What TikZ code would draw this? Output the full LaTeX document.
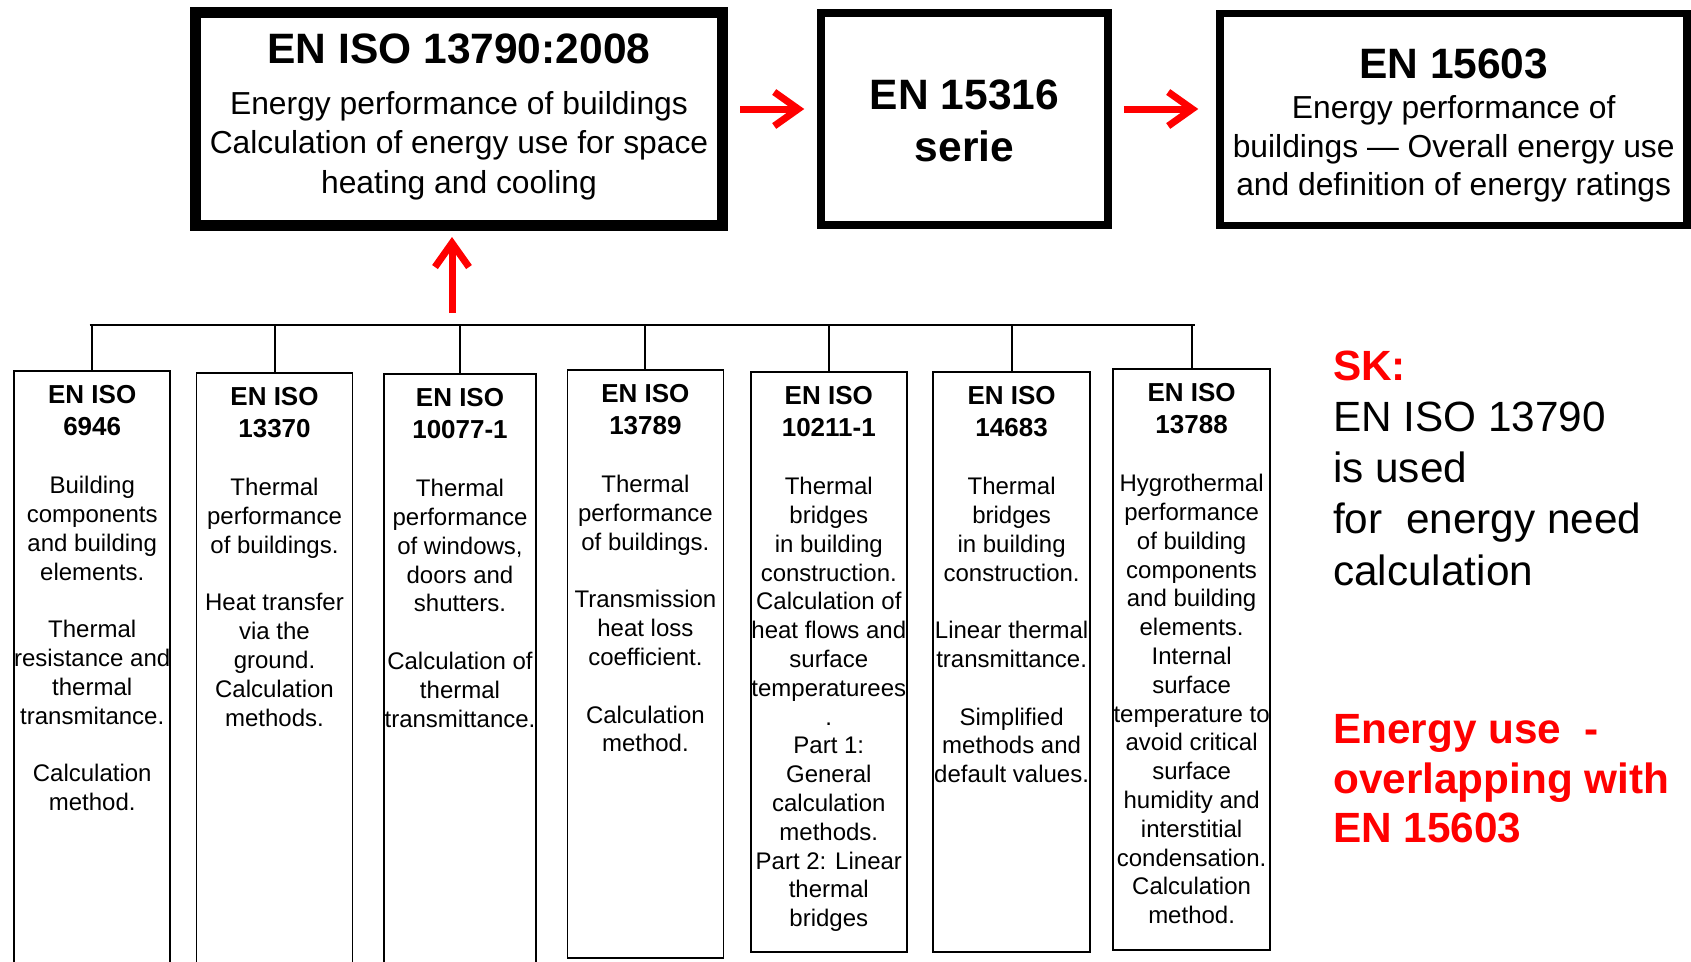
\documentclass[tikz,border=0pt]{standalone}
\usepackage{fontspec}
\setmainfont{Liberation Sans}
\usetikzlibrary{arrows.meta}
\newcommand{\stdhead}[1]{{\fontsize{26}{28.8}\selectfont\bfseries #1}}
\newcommand{\toptitle}[1]{{\fontsize{42.5}{39.4}\selectfont\bfseries #1}}
\tikzset{
  topbox/.style={draw,line width=7.5pt,inner sep=0pt,minimum height=212pt},
  toptext/.style={anchor=north,align=center,inner sep=0pt,font=\fontsize{31.8}{39.4}\selectfont},
  stdbox/.style={draw,line width=1.6pt,inner sep=0pt,anchor=north},
  stdtext/.style={anchor=north,align=center,inner sep=0pt,font=\fontsize{24}{28.8}\selectfont},
  sidetext/.style={anchor=north west,align=left,inner sep=0pt,font=\fontsize{42.3}{51.2}\selectfont},
  redarrow/.style={-{Straight Barb[length=24pt,width=34pt]},draw=red,line width=7pt},
  bar/.style={line width=2pt}
}

\begin{document}
\begin{tikzpicture}[x=1pt,y=1pt]
  \useasboundingbox (0,0) rectangle (1691,-961);
  % upper row
  \node[topbox,line width=11pt,minimum width=527pt,minimum height=213pt] (iso13790) at (459,-119) {};
  \node[topbox,minimum width=287pt] (en15316) at (964.5,-119) {};
  \node[topbox,minimum width=467pt] (en15603) at (1453.5,-119.5) {};
  \node[toptext] (t13790) at (459,-33.3) {\toptitle{EN ISO 13790:2008}\\[11.8pt]Energy performance of buildings\\Calculation of energy use for space\\heating and cooling};
  \node[toptext,font=\fontsize{42.5}{52}\selectfont\bfseries] (t15316) at (964.5,-79.3) {EN 15316\\serie};
  \node[toptext,font=\fontsize{31.8}{38.8}\selectfont] (t15603) at (1453.7,-48.7) {\toptitle{EN 15603}\\[1pt]Energy performance of\\buildings — Overall energy use\\and definition of energy ratings};
  \draw[redarrow,shorten <=12pt,shorten >=13pt] ([yshift=10pt]iso13790.east) -- ([yshift=10pt]en15316.west);
  \draw[redarrow,shorten <=12pt,shorten >=18pt] ([yshift=10pt]en15316.east) -- ([yshift=10.5pt]en15603.west);

  % lower row
  \node[stdbox,minimum width=156pt,minimum height=605pt] (iso6946) at (92.2,-370) {};
  \node[stdbox,minimum width=156pt,minimum height=603pt] (iso13370) at (274.5,-372) {};
  \node[stdbox,minimum width=152pt,minimum height=602pt] (iso10077) at (460,-373) {};
  \node[stdbox,minimum width=156pt,minimum height=588pt] (iso13789) at (645.4,-369) {};
  \node[stdbox,minimum width=156pt,minimum height=580pt] (iso10211) at (828.8,-371) {};
  \node[stdbox,minimum width=157pt,minimum height=580pt] (iso14683) at (1011.6,-371) {};
  \node[stdbox,minimum width=157pt,minimum height=581pt] (iso13788) at (1191.6,-368) {};

  \node[stdtext] (t6946) at ([yshift=-15pt]iso6946.north) {\stdhead{EN ISO}\\[3.6pt]\stdhead{6946}\\[29.2pt]Building\\components\\and building\\elements.\\[28.8pt]Thermal\\resistance and\\thermal\\transmitance.\\[28.8pt]Calculation\\method.};
  \node[stdtext] (t13370) at ([yshift=-15pt]iso13370.north) {\stdhead{EN ISO}\\[3.6pt]\stdhead{13370}\\[29.2pt]Thermal\\performance\\of buildings.\\[28.8pt]Heat transfer\\via the\\ground.\\Calculation\\methods.};
  \node[stdtext] (t10077) at ([yshift=-15pt]iso10077.north) {\stdhead{EN ISO}\\[3.6pt]\stdhead{10077-1}\\[29.2pt]Thermal\\performance\\of windows,\\doors and\\shutters.\\[28.8pt]Calculation of\\thermal\\transmittance.};
  \node[stdtext] (t13789) at ([yshift=-15pt]iso13789.north) {\stdhead{EN ISO}\\[3.6pt]\stdhead{13789}\\[29.2pt]Thermal\\performance\\of buildings.\\[28.8pt]Transmission\\heat loss\\coefficient.\\[28.8pt]Calculation\\method.};
  \node[stdtext] (t10211) at ([yshift=-15pt]iso10211.north) {\stdhead{EN ISO}\\[3.6pt]\stdhead{10211-1}\\[29.2pt]Thermal\\bridges\\in building\\construction.\\Calculation of\\heat flows and\\surface\\temperaturees\\.\\Part 1:\\General\\calculation\\methods.\\Part 2: Linear\\thermal\\bridges};
  \node[stdtext] (t14683) at ([yshift=-15pt]iso14683.north) {\stdhead{EN ISO}\\[3.6pt]\stdhead{14683}\\[29.2pt]Thermal\\bridges\\in building\\construction.\\[28.8pt]Linear thermal\\transmittance.\\[28.8pt]Simplified\\methods and\\default values.};
  \node[stdtext] (t13788) at ([yshift=-15pt]iso13788.north) {\stdhead{EN ISO}\\[3.6pt]\stdhead{13788}\\[29.2pt]Hygrothermal\\performance\\of building\\components\\and building\\elements.\\Internal\\surface\\temperature to\\avoid critical\\surface\\humidity and\\interstitial\\condensation.\\Calculation\\method.};

  % bracket joining the lower row
  \coordinate (barL) at (89.5,-325);
  \coordinate (barR) at (1195,-325);
  \coordinate (upfoot) at (452,-325);
  \draw[bar] (barL) -- (barR);
  \foreach \b in {iso6946,iso13370,iso10077,iso13789,iso10211,iso14683,iso13788}
    \draw[bar] (\b.north) -- (\b.north |- barL);
  \draw[redarrow,shorten <=12pt,shorten >=6pt] (upfoot) -- (upfoot |- iso13790.south);

  % notes on the right
  \node[sidetext] (sk) at (1333,-350.6) {{\color{red}\bfseries SK:}\\EN ISO 13790\\is used\\for\ \ energy need\\calculation};
  \node[sidetext,text=red,font=\fontsize{42.3}{49.6}\selectfont\bfseries] (overlap) at (1333,-714.2) {Energy use\ \ -\\overlapping with\\EN 15603};
\end{tikzpicture}
\end{document}
